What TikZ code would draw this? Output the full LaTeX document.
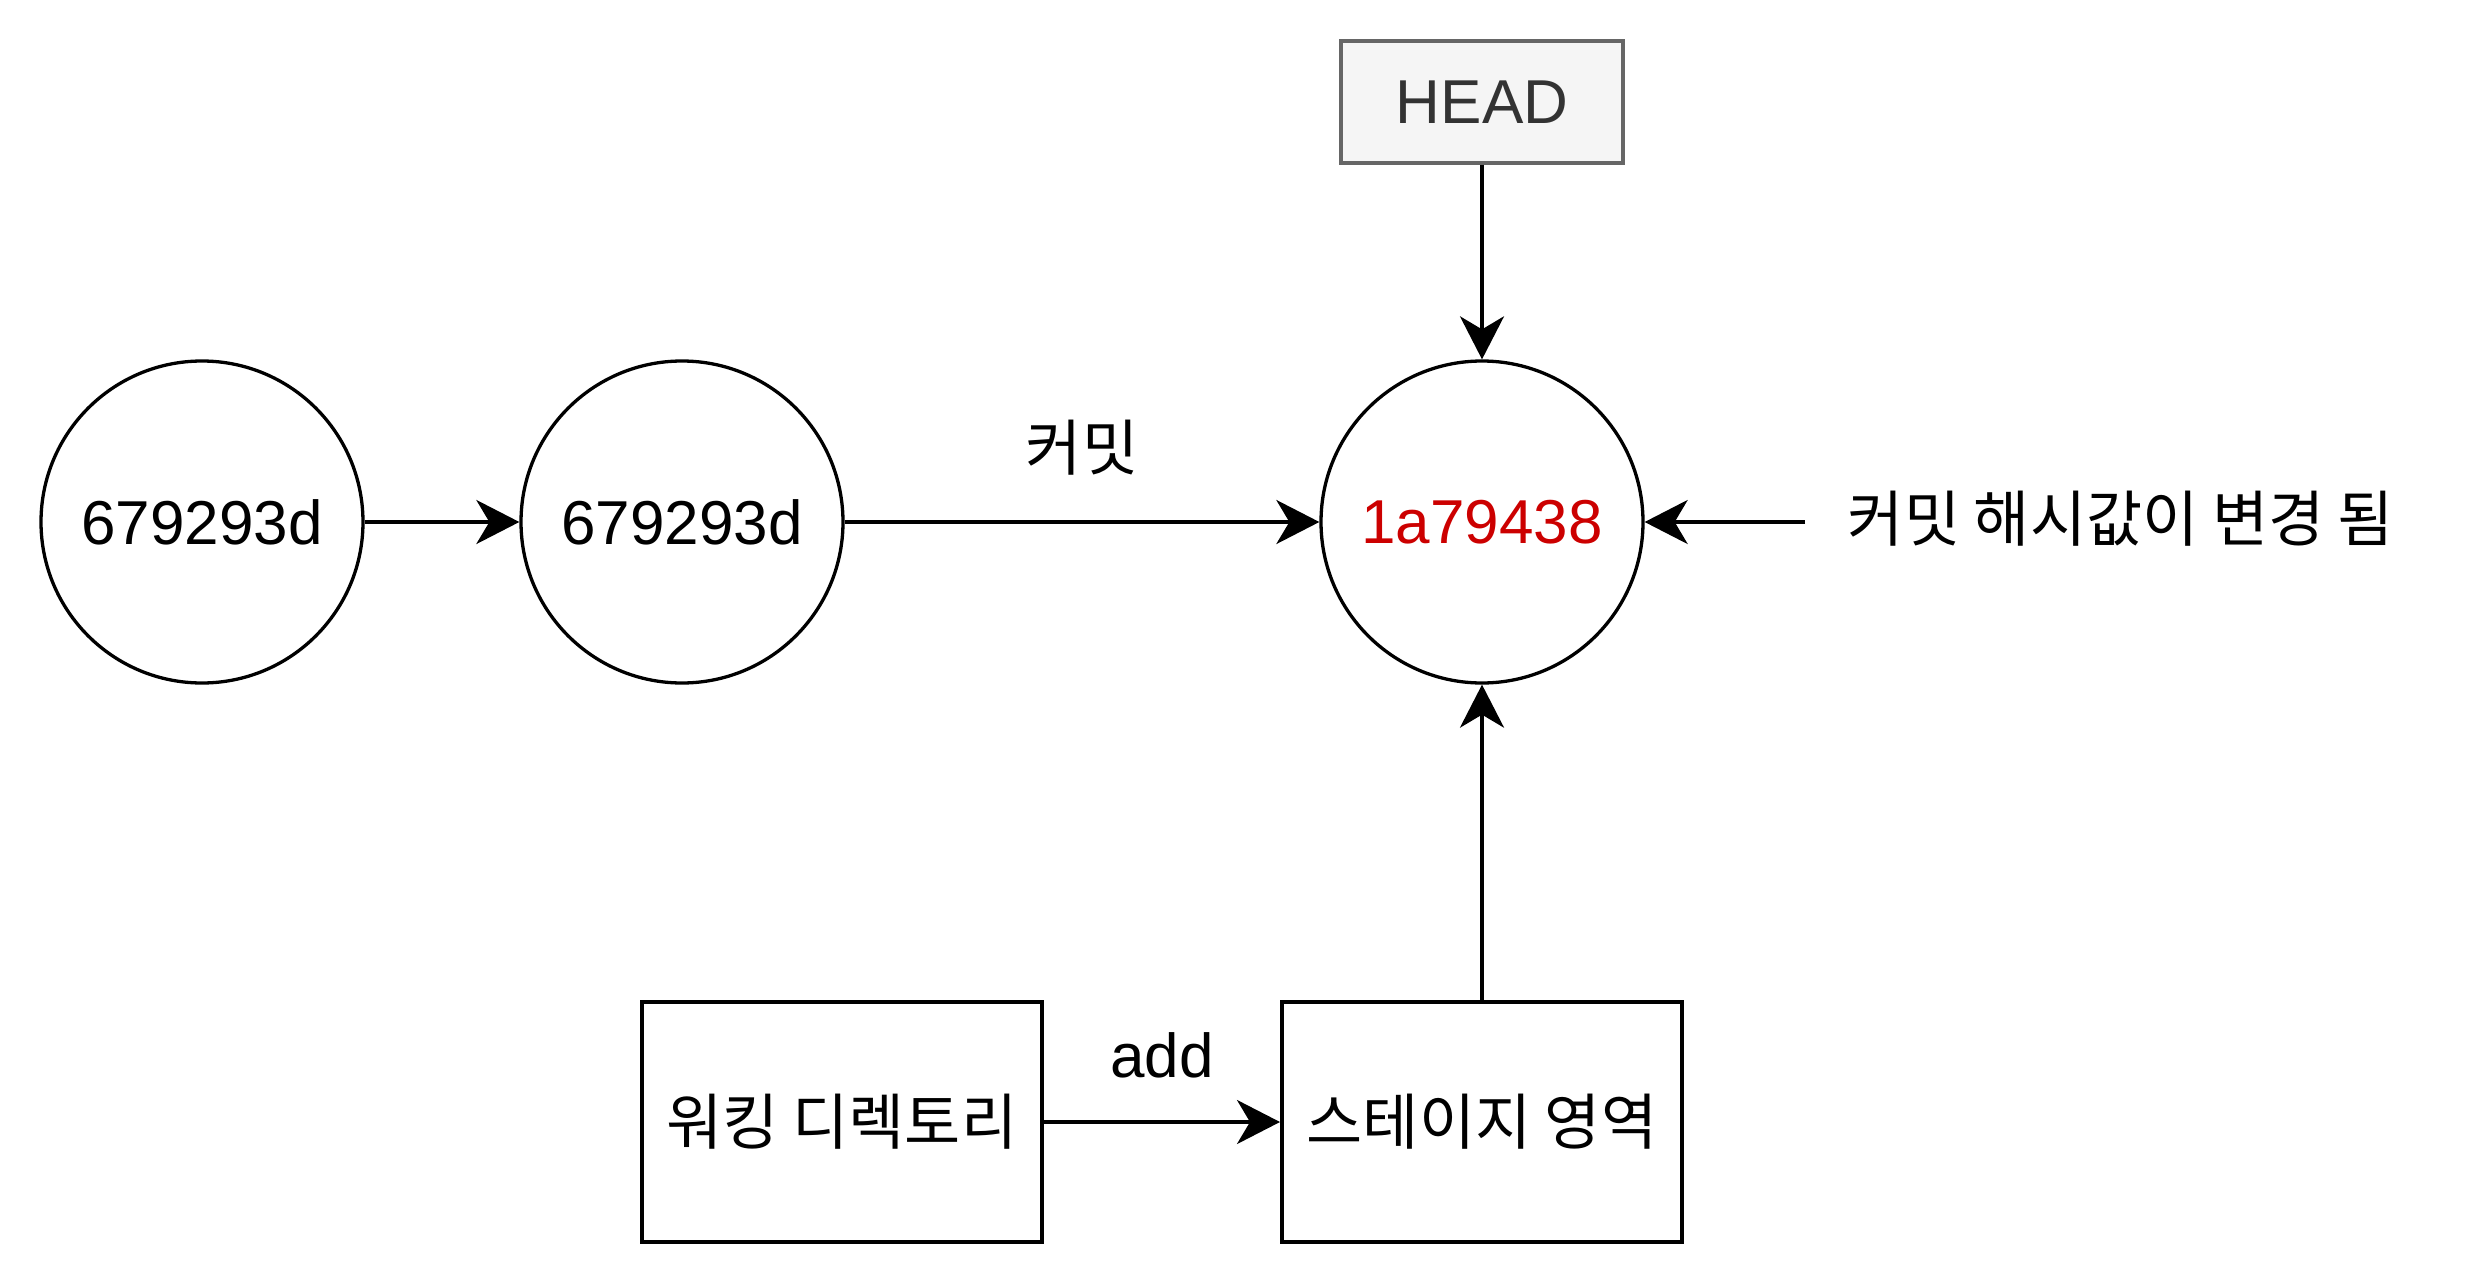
\documentclass[tikz,border=0pt]{standalone}
\usepackage{fontspec}
\setmainfont{Liberation Sans}
\newfontfamily\kr{Noto Sans CJK KR}
\usetikzlibrary{arrows.meta}
\begin{document}
\begin{tikzpicture}[x=1pt,y=-1pt,
  every node/.style={font=\fontsize{62}{68}\selectfont},
  krtext/.style={font=\fontsize{61}{68}\selectfont\kr},
  commit/.style={circle,draw,line width=3.3pt,minimum size=322pt,inner sep=0pt},
  area/.style={rectangle,draw,line width=4pt,minimum width=400pt,minimum height=240pt,inner sep=0pt,krtext},
  headbox/.style={rectangle,draw=black!60,fill=black!4,line width=3.5pt,minimum width=282pt,minimum height=122pt,inner sep=0pt,text=black!80},
  conn/.style={line width=3.5pt,-{Stealth[length=43pt,width=44pt,inset=13pt]}},
  lbl/.style={inner sep=0pt}]
\useasboundingbox (0,0) rectangle (2484,1284);
\node[commit] (c1) at (202,522) {679293d};
\node[commit] (c2) at (682,522) {679293d};
\node[commit,text={rgb,255:red,204;green,0;blue,0}] (c3) at (1482,522) {1a79438};
\node[headbox] (head) at (1482,102) {HEAD};
\node[area] (wd) at (842,1122) {워킹 디렉토리};
\node[area] (st) at (1482,1122) {스테이지 영역};
\node[lbl,krtext] (note) at (2121,519) {커밋 해시값이 변경 됨};
\coordinate (noteend) at (1805,522);
\draw[conn] (c1) -- (c2);
\draw[conn] (c2) -- node[lbl,krtext,above=45pt] (commitlbl) {커밋} (c3);
\draw[conn] (head) -- (c3);
\draw[conn] (noteend) -- (c3);
\draw[conn] (wd) -- node[lbl,above=42pt] (addlbl) {add} (st);
\draw[conn] (st) -- (c3);
\end{tikzpicture}
\end{document}
